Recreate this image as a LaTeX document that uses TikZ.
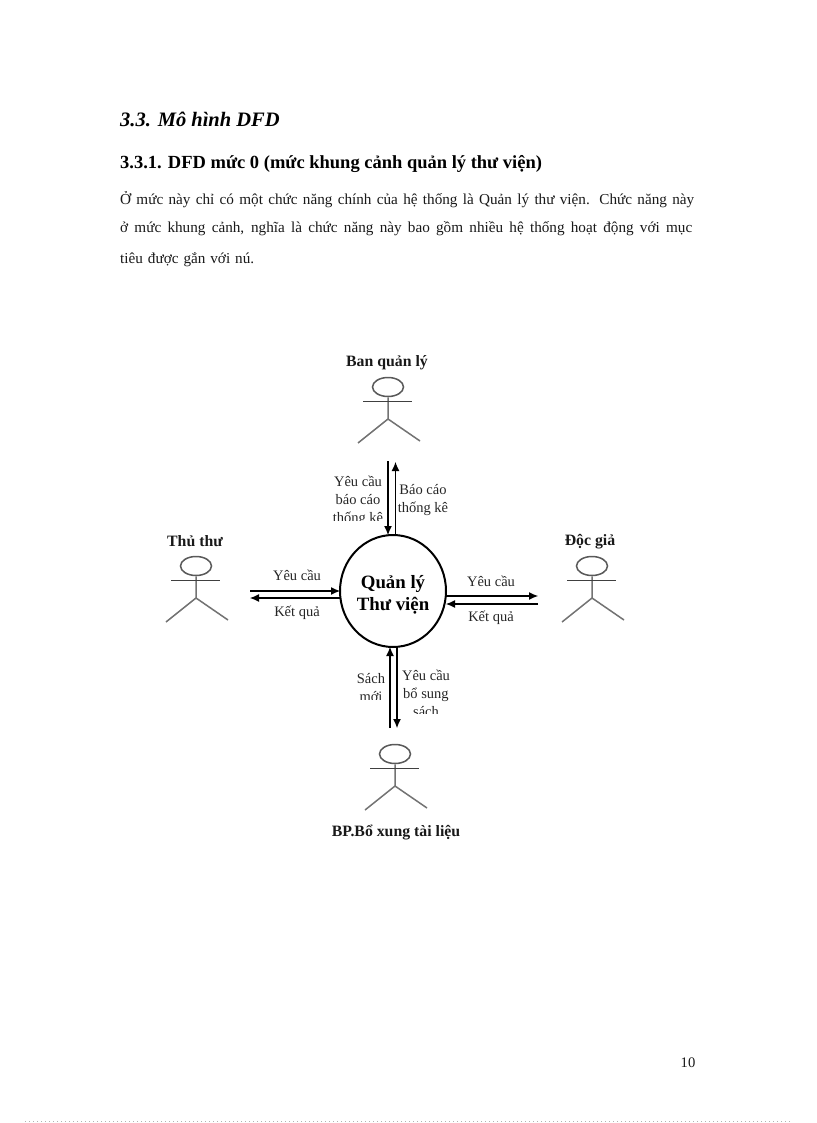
\documentclass[tikz,border=0pt]{standalone}
\usepackage{fontspec}
\setmainfont{Liberation Serif}
\usetikzlibrary{shapes.geometric,arrows.meta}
\tikzset{
  x=1pt,y=-1pt,
  flow/.style={line width=1.1pt,-{Latex[length=9pt,width=8pt]}},
  lbl/.style={font=\fontsize{14.5}{18}\selectfont,inner sep=0,align=center,text=black!85},
  actorname/.style={font=\fontsize{15.8}{18}\selectfont\bfseries,inner sep=0,text=black!90},
  para/.style={font=\fontsize{15.2}{17}\selectfont,inner sep=0,anchor=base west,text=black!90},
  limb/.style={draw=black!55,line width=1.5pt},
  arm/.style={draw=black!75,line width=1.4pt},
  head/.style={ellipse,draw=black!65,line width=1.5pt,minimum width=31pt,minimum height=19pt,inner sep=0},
  actor/.pic={
    \node[head] (-h) at (0,0) {};
    \coordinate (-hip) at (0,32);
    \coordinate (-al) at (-25,14.5);
    \coordinate (-ar) at (24,14.5);
    \coordinate (-ll) at (-30,56);
    \coordinate (-lr) at (32,54);
    \draw[limb] (-h.south) -- (-hip) -- (-ll);
    \draw[limb] (-hip) -- (-lr);
    \draw[arm] (-al) -- (-ar);
  }
}
\begin{document}
\begin{tikzpicture}
\useasboundingbox (0,0) rectangle (816,1123);
\fill[white] (0,0) rectangle (816,1123);

\node[inner sep=0,anchor=base west,font=\fontsize{20.5}{24}\selectfont\bfseries\itshape] (h1) at (120,127) {3.3. Mô hình DFD};
\node[inner sep=0,anchor=base west,font=\fontsize{18.5}{21}\selectfont\bfseries] (h2) at (120,169) {3.3.1. DFD mức 0 (mức khung cảnh quản lý thư viện)};
\node[para] (p1) at (120,205) {\makebox[574pt][s]{Ở mức này chỉ có một chức năng chính của hệ thống là Quản lý thư viện. Chức năng này}};
\node[para] (p2) at (120,233) {\makebox[572pt][s]{ở mức khung cảnh, nghĩa là chức năng này bao gồm nhiều hệ thống hoạt động với mục}};
\node[para] (p3) at (120,263) {\makebox[134pt][s]{tiêu được gắn với nú.}};

% central process
\node[ellipse,draw,line width=2pt,minimum width=106pt,minimum height=112pt,inner sep=0,outer sep=0,
  align=center,font=\fontsize{18.8}{22}\selectfont\bfseries] (Q) at (393,591) {\rule{0pt}{20pt}Quản lý\\Thư viện};

% actors
\pic (top) at (388,387) {actor};
\pic (lft) at (196,566) {actor};
\pic (rgt) at (592,566) {actor};
\pic (bot) at (395,754) {actor};

\node[actorname] (ntop) at (387,363) {Ban quản lý};
\node[actorname] (nlft) at (195,541) {Thủ thư};
\node[actorname] (nrgt) at (590,542) {Độc giả};
\node[actorname] (nbot) at (396,832) {BP.Bổ xung tài liệu};

% free ends of the flows
\coordinate (t1) at (388,461);
\coordinate (t2) at (395.5,462);
\coordinate (l1) at (250,591);
\coordinate (l2) at (250,598);
\coordinate (r1) at (538,596);
\coordinate (r2) at (538,604);
\coordinate (b1) at (390,728);
\coordinate (b2) at (397,728);

\draw[flow] (t1) -- (t1 |- Q.north);
\draw[flow] (t2 |- Q.north) -- (t2);
\draw[flow] (l1) -- (l1 -| Q.west);
\draw[flow] (l2 -| Q.west) -- (l2);
\draw[flow] (r1 -| Q.east) -- (r1);
\draw[flow] (r2) -- (r2 -| Q.east);
\draw[flow] (b1) -- (b1 |- Q.south);
\draw[flow] (b2 |- Q.south) -- (b2);

% clipped labels (the text boxes cut their last line)
\begin{scope}
  \clip (325,465) rectangle (386,520);
  \node[lbl] (ltop1) at (358,501) {Yêu cầu\\báo cáo\\thống kê};
\end{scope}
\node[lbl] (ltop2) at (423,500) {Báo cáo\\thống kê};

\node[lbl] (ll1) at (297,575) {Yêu cầu};
\node[lbl] (ll2) at (297,613) {Kết quả};
\node[lbl] (lr1) at (491,581) {Yêu cầu};
\node[lbl] (lr2) at (491,618) {Kết quả};

\begin{scope}
  \clip (345,665) rectangle (388,699.5);
  \node[lbl] (lb1) at (371,688) {Sách\\mới};
\end{scope}
\begin{scope}
  \clip (400,664) rectangle (455,713.5);
  \node[lbl] (lb2) at (426,693) {Yêu cầu\\bổ sung\\sách};
\end{scope}

\node[inner sep=0,font=\fontsize{14.6}{17}\selectfont,text=black!90] (pg) at (688,1063) {10};
\coordinate (da) at (25,1121.5);
\coordinate (db) at (792,1121.5);
\draw[black!30,line width=0.6pt,dash pattern=on 0.8pt off 3.2pt] (da) -- (db);
\end{tikzpicture}
\end{document}
